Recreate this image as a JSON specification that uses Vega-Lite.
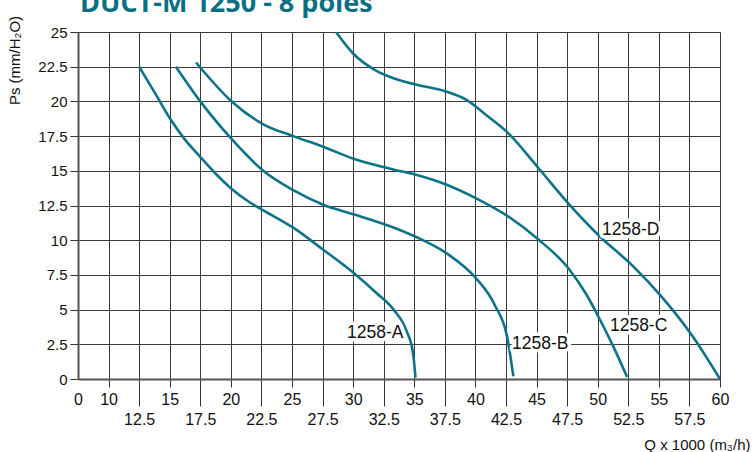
{
  "$schema": "https://vega.github.io/schema/vega-lite/v6.json",
  "width": 642,
  "height": 347,
  "autosize": {"type": "none"},
  "padding": {"left": 78, "top": 32, "right": 33, "bottom": 73},
  "background": "white",
  "title": {
    "text": "DUCT-M 1250 - 8 poles",
    "anchor": "start",
    "frame": "group",
    "baseline": "alphabetic",
    "offset": -24,
    "dx": 2,
    "font": "Open Sans",
    "fontWeight": "bold",
    "fontSize": 27,
    "color": "#0b6f84"
  },
  "config": {
    "view": {"stroke": null},
    "axis": {
      "labelFont": "Liberation Sans",
      "titleFont": "Liberation Sans",
      "labelColor": "#111",
      "titleColor": "#111",
      "titleFontWeight": "normal",
      "gridColor": "#3a3a3a",
      "gridWidth": 1,
      "gridOpacity": 1,
      "domainColor": "#555",
      "domainWidth": 2,
      "tickColor": "#333",
      "tickWidth": 1
    }
  },
  "datasets": {
    "curves": [
      {"curve": "1258-A", "Q": 12.5, "P": 22.5},
      {"curve": "1258-A", "Q": 13.8, "P": 20.6},
      {"curve": "1258-A", "Q": 15.0, "P": 18.8},
      {"curve": "1258-A", "Q": 16.2, "P": 17.3},
      {"curve": "1258-A", "Q": 17.5, "P": 16.0},
      {"curve": "1258-A", "Q": 18.8, "P": 14.75},
      {"curve": "1258-A", "Q": 20.0, "P": 13.75},
      {"curve": "1258-A", "Q": 21.5, "P": 12.75},
      {"curve": "1258-A", "Q": 22.65, "P": 12.15},
      {"curve": "1258-A", "Q": 25.1, "P": 10.9},
      {"curve": "1258-A", "Q": 27.5, "P": 9.35},
      {"curve": "1258-A", "Q": 30.1, "P": 7.6},
      {"curve": "1258-A", "Q": 31.9, "P": 6.2},
      {"curve": "1258-A", "Q": 33.3, "P": 5.0},
      {"curve": "1258-A", "Q": 34.35, "P": 3.5},
      {"curve": "1258-A", "Q": 34.9, "P": 1.85},
      {"curve": "1258-A", "Q": 35.1, "P": 0.1},
      {"curve": "1258-B", "Q": 15.5, "P": 22.5},
      {"curve": "1258-B", "Q": 17.5, "P": 20.0},
      {"curve": "1258-B", "Q": 20.0, "P": 17.35},
      {"curve": "1258-B", "Q": 22.65, "P": 15.0},
      {"curve": "1258-B", "Q": 25.1, "P": 13.6},
      {"curve": "1258-B", "Q": 27.55, "P": 12.55},
      {"curve": "1258-B", "Q": 30.1, "P": 11.85},
      {"curve": "1258-B", "Q": 33.35, "P": 10.9},
      {"curve": "1258-B", "Q": 35.1, "P": 10.25},
      {"curve": "1258-B", "Q": 37.65, "P": 9.05},
      {"curve": "1258-B", "Q": 40.0, "P": 7.3},
      {"curve": "1258-B", "Q": 41.6, "P": 5.3},
      {"curve": "1258-B", "Q": 42.6, "P": 3.0},
      {"curve": "1258-B", "Q": 43.1, "P": 0.2},
      {"curve": "1258-C", "Q": 17.15, "P": 22.8},
      {"curve": "1258-C", "Q": 20.0, "P": 20.05},
      {"curve": "1258-C", "Q": 22.65, "P": 18.35},
      {"curve": "1258-C", "Q": 25.1, "P": 17.5},
      {"curve": "1258-C", "Q": 27.5, "P": 16.75},
      {"curve": "1258-C", "Q": 30.1, "P": 15.85},
      {"curve": "1258-C", "Q": 33.35, "P": 15.08},
      {"curve": "1258-C", "Q": 35.2, "P": 14.7},
      {"curve": "1258-C", "Q": 37.65, "P": 14.0},
      {"curve": "1258-C", "Q": 40.1, "P": 13.0},
      {"curve": "1258-C", "Q": 42.7, "P": 11.7},
      {"curve": "1258-C", "Q": 45.15, "P": 10.05},
      {"curve": "1258-C", "Q": 47.6, "P": 7.98},
      {"curve": "1258-C", "Q": 49.1, "P": 6.05},
      {"curve": "1258-C", "Q": 50.2, "P": 4.25},
      {"curve": "1258-C", "Q": 51.3, "P": 2.3},
      {"curve": "1258-C", "Q": 52.4, "P": 0.15},
      {"curve": "1258-D", "Q": 28.6, "P": 25.0},
      {"curve": "1258-D", "Q": 30.0, "P": 23.45},
      {"curve": "1258-D", "Q": 31.8, "P": 22.25},
      {"curve": "1258-D", "Q": 33.35, "P": 21.65},
      {"curve": "1258-D", "Q": 35.2, "P": 21.2},
      {"curve": "1258-D", "Q": 37.65, "P": 20.7},
      {"curve": "1258-D", "Q": 39.3, "P": 20.1},
      {"curve": "1258-D", "Q": 40.9, "P": 19.0},
      {"curve": "1258-D", "Q": 42.7, "P": 17.7},
      {"curve": "1258-D", "Q": 45.15, "P": 15.2},
      {"curve": "1258-D", "Q": 47.7, "P": 12.55},
      {"curve": "1258-D", "Q": 50.2, "P": 10.25},
      {"curve": "1258-D", "Q": 52.8, "P": 8.2},
      {"curve": "1258-D", "Q": 55.2, "P": 5.95},
      {"curve": "1258-D", "Q": 57.7, "P": 3.15},
      {"curve": "1258-D", "Q": 60.0, "P": 0.0}
    ],
    "labels": [
      {"curve": "1258-A", "Q": 29.5, "P": 3.3},
      {"curve": "1258-B", "Q": 43.0, "P": 2.5},
      {"curve": "1258-C", "Q": 51.0, "P": 3.8},
      {"curve": "1258-D", "Q": 50.35, "P": 10.75}
    ]
  },
  "encoding": {
    "x": {
      "field": "Q",
      "type": "quantitative",
      "scale": {"domain": [7.5, 60], "nice": false, "zero": false},
      "axis": {
        "title": "Q x 1000 (m₃/h)",
        "titleFontSize": 15,
        "titleAnchor": "end",
        "titleAlign": "right",
        "titleBaseline": "middle",
        "titleX": 672,
        "titleY": 65,
        "values": [7.5, 10, 12.5, 15, 17.5, 20, 22.5, 25, 27.5, 30, 32.5, 35, 37.5, 40, 42.5, 45, 47.5, 50, 52.5, 55, 57.5, 60],
        "labelExpr": "datum.value == 7.5 ? '0' : '' + datum.value",
        "labelFontSize": 16,
        "labelFlush": false,
        "labelOverlap": false,
        "labelBaseline": "top",
        "tickSize": {"condition": [{"test": "datum.value == 7.5", "value": 0}, {"test": "datum.value % 5 == 0", "value": 8}], "value": 27},
        "labelPadding": {"condition": [{"test": "datum.value == 7.5", "value": 12}, {"test": "datum.value % 5 == 0", "value": 4}], "value": 5},
        "grid": true
      }
    },
    "y": {
      "field": "P",
      "type": "quantitative",
      "scale": {"domain": [0, 25], "nice": false},
      "axis": {
        "title": "Ps (mm/H₂O)",
        "titleFontSize": 15,
        "titleAngle": -90,
        "titleAlign": "center",
        "titleBaseline": "middle",
        "titleX": -64,
        "titleY": 28,
        "values": [0, 2.5, 5, 7.5, 10, 12.5, 15, 17.5, 20, 22.5, 25],
        "labelExpr": "'' + datum.value",
        "labelFontSize": 15,
        "labelFlush": false,
        "labelPadding": 3,
        "tickSize": 8,
        "grid": true
      }
    }
  },
  "layer": [
    {
      "data": {"name": "curves"},
      "mark": {"type": "line", "interpolate": "monotone", "strokeWidth": 2.6, "color": "#0e7388", "clip": true},
      "encoding": {"detail": {"field": "curve"}}
    },
    {
      "data": {"name": "labels"},
      "mark": {"type": "text", "align": "left", "baseline": "middle", "font": "Liberation Sans", "fontSize": 17.5, "stroke": "white", "strokeWidth": 7, "strokeJoin": "round", "fill": "white"},
      "encoding": {"text": {"field": "curve"}}
    },
    {
      "data": {"name": "labels"},
      "mark": {"type": "text", "align": "left", "baseline": "middle", "font": "Liberation Sans", "fontSize": 17.5, "color": "#111"},
      "encoding": {"text": {"field": "curve"}}
    }
  ]
}
